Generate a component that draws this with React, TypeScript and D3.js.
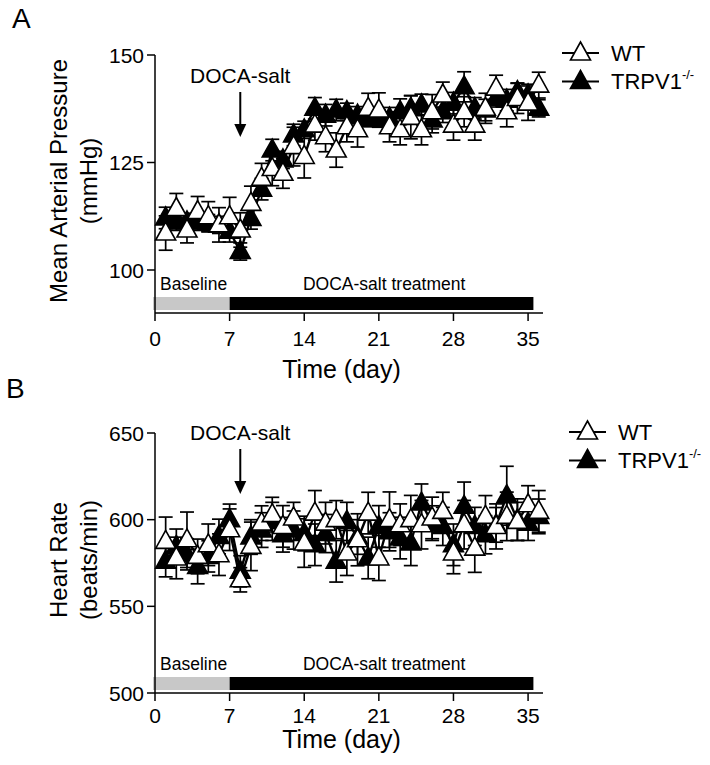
import React from "react";
import * as d3 from "d3";

// days of measurement
const days = d3.range(1, 37);

// Panel A: mean arterial pressure (mmHg)
const mapWT = [108.6, 114.3, 109.3, 113.6, 112.4, 110.5, 112.4, 109.3, 115.5, 121.3, 123.6, 122.5, 128.7, 126.4, 133.7, 131.0, 127.9, 133.3, 132.6, 137.6, 137.2, 133.3, 132.6, 135.5, 132.6, 136.8, 140.7, 133.7, 136.8, 133.7, 137.6, 142.3, 136.8, 139.9, 138.8, 143.0];
const mapWTErr = [4, 3.5, 3, 3.5, 3.5, 4, 4.5, 4, 4, 3.5, 4, 3.5, 4.5, 5, 3.5, 3.5, 4, 3.5, 4, 3.5, 4, 3.5, 3.5, 5, 3.5, 4, 3, 3.5, 3.5, 3.5, 3.5, 3, 3.5, 3.5, 4, 3];
const mapKO = [112.1, 111.2, 111.2, 111.2, 110.9, 110.5, 109.0, 104.3, 112.0, 118.8, 127.9, 125.6, 131.4, 132.6, 137.6, 136.0, 137.2, 136.8, 136.0, 135.3, 135.3, 135.3, 136.8, 137.6, 138.4, 134.9, 136.8, 138.8, 142.6, 137.6, 137.2, 139.9, 139.5, 141.5, 140.7, 137.6];
const mapKOErr = [2.5, 2, 2, 2, 2, 2, 2.5, 2, 2.5, 2.5, 2.5, 2, 2.5, 2, 2.5, 2.5, 2.5, 2, 2, 2, 2, 2.5, 3, 3, 2.5, 3, 2.5, 2.5, 3.5, 2.5, 2.5, 2, 2.5, 2, 2.5, 2];

// Panel B: heart rate (beats/min)
const hrWT = [587.5, 577.9, 588.4, 578.8, 585.5, 579.8, 594.2, 565.3, 584.6, 598.0, 602.9, 596.1, 601.0, 586.5, 603.8, 598.0, 600.0, 580.8, 588.4, 603.8, 577.9, 600.0, 597.1, 600.0, 597.1, 601.0, 604.8, 580.8, 597.1, 583.6, 601.9, 596.1, 601.9, 599.0, 608.6, 604.8];
const hrWTErr = [14, 12, 16, 10, 12, 12, 12, 7, 14, 10, 10, 12, 9, 14, 13, 12, 11, 13, 15, 12, 13, 16, 12, 14, 14, 12, 11, 12, 14, 14, 12, 13, 14, 11, 11, 12];
const hrKO = [576.0, 584.6, 580.0, 573.0, 578.8, 590.3, 600.0, 570.2, 590.0, 594.0, 599.0, 591.3, 594.0, 592.0, 585.5, 592.0, 576.0, 599.0, 590.0, 577.9, 596.1, 593.0, 589.4, 586.5, 609.6, 598.0, 596.1, 585.5, 607.7, 596.1, 591.3, 597.0, 613.8, 600.0, 598.0, 601.9];
const hrKOErr = [9, 10, 9, 10, 9, 10, 9, 9, 10, 10, 11, 10, 11, 10, 12, 11, 12, 11, 10, 12, 12, 11, 12, 13, 11, 10, 11, 12, 14, 11, 11, 10, 17, 12, 10, 10];

const xTicks = [0, 7, 14, 21, 28, 35];
const mapTicks = [100, 125, 150];
const hrTicks = [500, 550, 600, 650];

const font = "Liberation Sans, Arial, sans-serif";

const tri = (cx: number, cy: number) =>
  `M${cx},${cy - 11}L${cx + 10},${cy + 7}L${cx - 10},${cy + 7}Z`;

type PanelProps = {
  top: number;
  bottom: number;
  domain: [number, number];
  yTicks: number[];
  wt: number[];
  wtErr: number[];
  ko: number[];
  koErr: number[];
  letter: string;
  letterX: number;
  letterY: number;
  label1: string;
  label2: string;
  labelY: number;
  docaY: number;
  legendX: number;
  legendY: number;
  tickDy: number;
  titleDy: number;
};

function Panel(p: PanelProps) {
  const x = d3.scaleLinear().domain([0, 36.4]).range([155, 543]);
  const y = d3.scaleLinear().domain(p.domain).range([p.bottom, p.top]);
  const line = d3
    .line<number>()
    .x((_, i) => x(days[i]))
    .y((d) => y(d));

  const series = (vals: number[], errs: number[], filled: boolean, key: string) => (
    <g key={key}>
      <path d={line(vals) || ""} fill="none" stroke="#000" strokeWidth={2.4} />
      {vals.map((v, i) => {
        const cx = x(days[i]);
        return (
          <g key={i} stroke="#000" strokeWidth={1.7}>
            <line x1={cx} x2={cx} y1={y(v - errs[i])} y2={y(v + errs[i])} />
            <line x1={cx - 7} x2={cx + 7} y1={y(v + errs[i])} y2={y(v + errs[i])} />
            <line x1={cx - 7} x2={cx + 7} y1={y(v - errs[i])} y2={y(v - errs[i])} />
          </g>
        );
      })}
      {vals.map((v, i) => (
        <path
          key={"m" + i}
          d={tri(x(days[i]), y(v))}
          fill={filled ? "#000" : "#fff"}
          stroke="#000"
          strokeWidth={1.6}
        />
      ))}
    </g>
  );

  const axisY = p.bottom;
  const docaX = x(8);
  return (
    <g fontFamily={font}>
      <text x={p.letterX} y={p.letterY} fontSize={28}>{p.letter}</text>
      {/* y label */}
      <g transform={`translate(67,${p.labelY}) rotate(-90)`}>
        <text textAnchor="middle" fontSize={24}>{p.label1}</text>
        <text y={30} textAnchor="middle" fontSize={24}>{p.label2}</text>
      </g>
      {/* treatment bar */}
      <rect x={153} y={axisY - 16} width={x(7) - 153} height={13} fill="#c8c8c8" />
      <rect x={x(7)} y={axisY - 16} width={x(35.5) - x(7)} height={13} fill="#000" />
      <text x={160} y={axisY - 23} fontSize={17.5}>Baseline</text>
      <text x={x(21.5)} y={axisY - 23} fontSize={17.5} textAnchor="middle">DOCA-salt treatment</text>
      {/* axes */}
      <line x1={155} x2={155} y1={p.top} y2={axisY} stroke="#000" strokeWidth={1.5} />
      <line x1={155} x2={543} y1={axisY} y2={axisY} stroke="#000" strokeWidth={1.5} />
      {p.yTicks.map((t) => (
        <g key={t}>
          <line x1={147} x2={155} y1={y(t)} y2={y(t)} stroke="#000" strokeWidth={1.5} />
          <text x={144} y={y(t) + 7.5} fontSize={21} textAnchor="end">{t}</text>
        </g>
      ))}
      {xTicks.map((t) => (
        <g key={t}>
          <line x1={x(t)} x2={x(t)} y1={axisY} y2={axisY + 8} stroke="#000" strokeWidth={1.5} />
          <text x={x(t)} y={axisY + p.tickDy} fontSize={21} textAnchor="middle">{t}</text>
        </g>
      ))}
      <text x={x(17.5)} y={axisY + p.titleDy} fontSize={25} textAnchor="middle">Time (day)</text>
      {/* DOCA arrow */}
      <text x={docaX} y={p.docaY} fontSize={21} textAnchor="middle">DOCA-salt</text>
      <line x1={docaX} x2={docaX} y1={p.docaY + 9} y2={p.docaY + 44} stroke="#000" strokeWidth={2} />
      <path d={`M${docaX - 6},${p.docaY + 41}L${docaX + 6},${p.docaY + 41}L${docaX},${p.docaY + 54}Z`} fill="#000" />
      {/* data */}
      {series(p.ko, p.koErr, true, "ko")}
      {series(p.wt, p.wtErr, false, "wt")}
      {/* legend */}
      {[
        { filled: false, dy: 0 },
        { filled: true, dy: 28.5 },
      ].map((l, i) => (
        <g key={i}>
          <line x1={p.legendX} x2={p.legendX + 37} y1={p.legendY + l.dy} y2={p.legendY + l.dy} stroke="#000" strokeWidth={1.8} />
          <path d={tri(p.legendX + 18.5, p.legendY + l.dy)} fill={l.filled ? "#000" : "#fff"} stroke="#000" strokeWidth={1.6} />
        </g>
      ))}
      <text x={p.legendX + 49} y={p.legendY + 7.5} fontSize={22}>WT</text>
      <text x={p.legendX + 49} y={p.legendY + 36} fontSize={22}>
        TRPV1<tspan fontSize={13} dy={-10}>-/-</tspan>
      </text>
    </g>
  );
}

export default function App() {
  return (
    <svg width={710} height={765} style={{ display: "block", position: "absolute", left: 0, top: 0 }}>
      <Panel
        top={55}
        bottom={313}
        domain={[90, 150]}
        yTicks={mapTicks}
        wt={mapWT}
        wtErr={mapWTErr}
        ko={mapKO}
        koErr={mapKOErr}
        letter="A"
        letterX={12}
        letterY={28}
        label1="Mean Arterial Pressure"
        label2="(mmHg)"
        labelY={181}
        docaY={83}
        legendX={562}
        legendY={53}
        tickDy={33}
        titleDy={65}
      />
      <Panel
        top={433}
        bottom={693}
        domain={[500, 650]}
        yTicks={hrTicks}
        wt={hrWT}
        wtErr={hrWTErr}
        ko={hrKO}
        koErr={hrKOErr}
        letter="B"
        letterX={6}
        letterY={398}
        label1="Heart Rate"
        label2="(beats/min)"
        labelY={560}
        docaY={440}
        legendX={569}
        legendY={432}
        tickDy={30}
        titleDy={55}
      />
    </svg>
  );
}
